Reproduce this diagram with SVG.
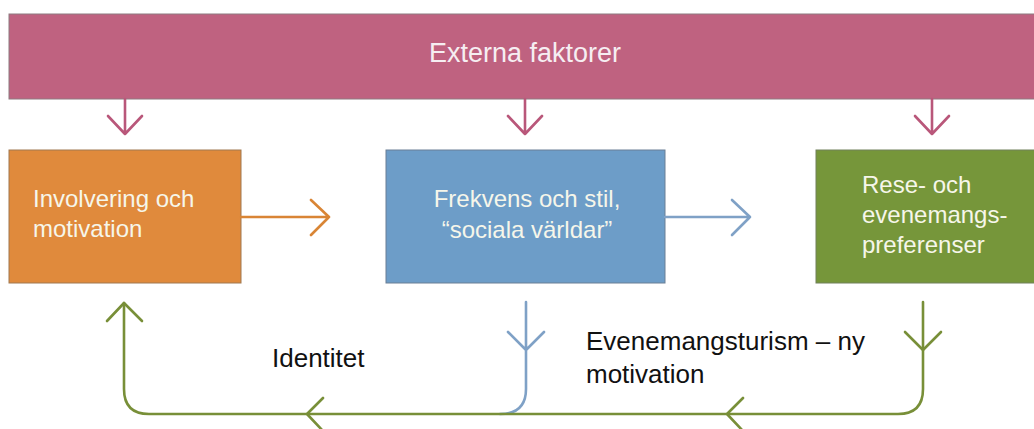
<svg xmlns="http://www.w3.org/2000/svg" width="1034" height="429" viewBox="0 0 1034 429">
<defs>
<style>
.boxtxt{font-family:"Liberation Sans",Arial,sans-serif;font-size:24px;fill:#f6f6ea}
.lbl{font-family:"Liberation Sans",Arial,sans-serif;font-size:26px;fill:#111}
.ln{fill:none;stroke-width:2.6;stroke-linecap:round;stroke-linejoin:round}
.pink{stroke:#b9577a}
.org{stroke:#d98535}
.blu{stroke:#7fa1c6}
.grn{stroke:#788f38}
</style>
</defs>
<rect width="1034" height="429" fill="#ffffff"/>
<g id="externa">
<rect x="9" y="14" width="1030" height="85" fill="#bf6280" stroke="#8e7b80" stroke-width="1"/>
<text x="525" y="62" text-anchor="middle" font-family="Liberation Sans, Arial, sans-serif" font-size="27" fill="#f6eef2">Externa faktorer</text>
</g>
<g id="involvering">
<rect x="9" y="150" width="232" height="133" fill="#e08a3c" stroke="#a07850" stroke-width="1"/>
<text class="boxtxt" x="33" y="207">Involvering och</text>
<text class="boxtxt" x="33" y="237">motivation</text>
</g>
<g id="frekvens">
<rect x="386" y="150" width="279" height="133" fill="#6d9dc8" stroke="#6a7f95" stroke-width="1"/>
<text class="boxtxt" x="527" y="207" text-anchor="middle">Frekvens och stil,</text>
<text class="boxtxt" x="527" y="238" text-anchor="middle">“sociala världar”</text>
</g>
<g id="rese">
<rect x="816" y="150" width="222" height="133" fill="#76963a" stroke="#70805a" stroke-width="1"/>
<text class="boxtxt" x="862" y="193">Rese- och</text>
<text class="boxtxt" x="862" y="223">evenemangs-</text>
<text class="boxtxt" x="862" y="253">preferenser</text>
</g>
<g id="labels">
<text class="lbl" x="272" y="367">Identitet</text>
<text class="lbl" x="586" y="350">Evenemangsturism – ny</text>
<text class="lbl" x="586" y="383">motivation</text>
</g>
<g id="connectors">
<path class="ln pink" d="M125 99V134M108 116L125 134L142 116"/>
<path class="ln pink" d="M525 99V134M508 116L525 134L542 116"/>
<path class="ln pink" d="M932 99V134M915 116L932 134L949 116"/>
<path class="ln org" d="M241 217H329M311 200L329 217L311 235"/>
<path class="ln blu" d="M665 217H750M732 200L750 217L732 235"/>
<path class="ln blu" d="M526 302V389Q526 414 500 414M508 332L526 350L544 332"/>
<path class="ln grn" d="M923 302V389Q923 414 898 414H149Q124 414 124 389V303"/>
<path class="ln grn" d="M905 332L923 350L941 332"/>
<path class="ln grn" d="M107 321L124 303L142 321"/>
<path class="ln grn" d="M323 398L307 414L323 431"/>
<path class="ln grn" d="M743 398L727 414L743 431"/>
</g>
</svg>
